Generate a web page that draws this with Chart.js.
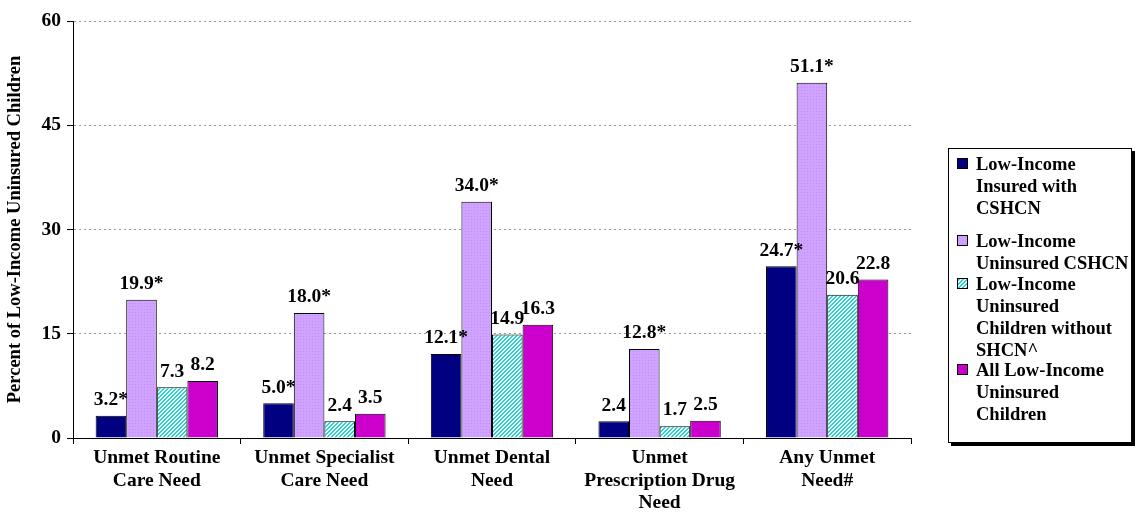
<!DOCTYPE html>
<html>
<head>
<meta charset="utf-8">
<script src="https://cdn.jsdelivr.net/npm/chart.js@4.4.1/dist/chart.umd.min.js"></script>
<style>
  body { margin: 0; background: #fff; }
  #wrap { position: relative; width: 1139px; height: 516px; }
  #legend {
    position: absolute; left: 948px; top: 148px; width: 182px; height: 293px;
    border: 1px solid #000; box-shadow: 3px 3px 0 #000; background: #fff;
    font: bold 18.5px "Liberation Serif", "Times New Roman", serif; color: #000;
  }
  .item { position: absolute; left: 8px; line-height: 22px; }
  .sw { position: absolute; left: 0; top: 5px; width: 11px; height: 11px; border: 1px solid #000; box-sizing: border-box; }
  .txt { margin-left: 19px; white-space: nowrap; }
</style>
</head>
<body>
<div id="wrap">
  <canvas id="chart-area" width="1139" height="516"></canvas>
  <div id="legend"></div>
</div>
<script>
const categories = [
  ['Unmet Routine', 'Care Need'],
  ['Unmet Specialist', 'Care Need'],
  ['Unmet Dental', 'Need'],
  ['Unmet', 'Prescription Drug', 'Need'],
  ['Any Unmet', 'Need#']
];
const seriesNames = [
  ['Low-Income', 'Insured with', 'CSHCN'],
  ['Low-Income', 'Uninsured CSHCN'],
  ['Low-Income', 'Uninsured', 'Children without', 'SHCN^'],
  ['All Low-Income', 'Uninsured', 'Children']
];
const insuredCshcn = [3.2, 5.0, 12.1, 2.4, 24.7];
const uninsuredCshcn = [19.9, 18.0, 34.0, 12.8, 51.1];
const uninsuredNoShcn = [7.3, 2.4, 14.9, 1.7, 20.6];
const allUninsured = [8.2, 3.5, 16.3, 2.5, 22.8];
// significance markers shown after the value
const insuredStars = ['*', '*', '*', '', '*'];
const uninsuredStars = ['*', '*', '*', '*', '*'];
const noStars = ['', '', '', '', ''];
const yTicks = [0, 15, 30, 45, 60];

function dotPattern() {
  const c = document.createElement('canvas');
  c.width = 3; c.height = 3;
  const g = c.getContext('2d');
  g.fillStyle = '#CFA3FF'; g.fillRect(0, 0, 3, 3);
  g.fillStyle = '#BC90F4'; g.fillRect(0, 0, 1, 1);
  return g.createPattern(c, 'repeat');
}
function hatchPattern() {
  const c = document.createElement('canvas');
  c.width = 4; c.height = 4;
  const g = c.getContext('2d');
  g.fillStyle = '#E6FFFF'; g.fillRect(0, 0, 4, 4);
  g.fillStyle = '#38CFCC';
  for (let i = 0; i < 4; i++) { g.fillRect(3 - i, i, 1, 1); g.fillRect((4 - i) % 4, i, 1, 1); }
  return g.createPattern(c, 'repeat');
}

const colors = ['#000080', dotPattern(), hatchPattern(), '#CC00CC'];
const cssSwatch = [
  'background:#000080',
  'background:#CFA3FF radial-gradient(#BC90F4 30%, transparent 31%) 0 0/3px 3px',
  'background:repeating-linear-gradient(135deg,#38CFCC 0 1.5px,#E6FFFF 1.5px 3px)',
  'background:#CC00CC'
];

const valueLabels = {
  id: 'valueLabels',
  afterDatasetsDraw(chart) {
    const ctx = chart.ctx;
    ctx.save();
    ctx.font = 'bold 19.5px "Liberation Serif", serif';
    ctx.fillStyle = '#000';
    ctx.textAlign = 'center';
    ctx.textBaseline = 'bottom';
    chart.data.datasets.forEach((ds, i) => {
      chart.getDatasetMeta(i).data.forEach((bar, j) => {
        ctx.fillText(ds.data[j].toFixed(1) + ds.stars[j], bar.x, bar.y - 6);
      });
    });
    ctx.restore();
  }
};

window.onload = function() {
  let ctx = document.getElementById('chart-area').getContext('2d');
  let barChart = new Chart(ctx, {
    type: 'bar',
    data: {
      labels: categories,
      datasets: [
        { label: seriesNames[0].join(' '), data: insuredCshcn, stars: insuredStars, backgroundColor: colors[0] },
        { label: seriesNames[1].join(' '), data: uninsuredCshcn, stars: uninsuredStars, backgroundColor: colors[1] },
        { label: seriesNames[2].join(' '), data: uninsuredNoShcn, stars: noStars, backgroundColor: colors[2] },
        { label: seriesNames[3].join(' '), data: allUninsured, stars: noStars, backgroundColor: colors[3] }
      ].map(d => Object.assign(d, { borderColor: '#000', borderWidth: 1, categoryPercentage: 0.73, barPercentage: 1 }))
    },
    options: {
      responsive: false,
      animation: false,
      layout: { padding: { left: 0, right: 228, top: 21, bottom: 0 } },
      plugins: { legend: { display: false }, tooltip: { enabled: false } },
      scales: {
        x: {
          afterFit: s => { s.height = 78; },
          grid: { offset: true, drawOnChartArea: false, color: '#000', tickLength: 6 },
          border: { color: '#000', width: 1 },
          ticks: { color: '#000', padding: 3, font: { family: 'Liberation Serif', size: 19.5, weight: 'bold', lineHeight: 1.15 } }
        },
        y: {
          min: 0, max: 60,
          afterFit: s => { s.width = 73; },
          afterBuildTicks: s => { s.ticks = yTicks.map(v => ({ value: v })); },
          grid: { color: '#999', tickColor: '#000', tickLength: 6, tickBorderDash: [1, 0] },
          border: { color: '#000', width: 1, dash: [2, 3] },
          ticks: { color: '#000', padding: 6, font: { family: 'Liberation Serif', size: 19.5, weight: 'bold' } },
          title: { display: true, text: 'Percent of Low-Income Uninsured Children', color: '#000', padding: { top: 4, bottom: 0 },
                   font: { family: 'Liberation Serif', size: 18.5, weight: 'bold' } }
        }
      }
    },
    plugins: [valueLabels]
  });

  const tops = [4, 81, 124, 210];
  const legend = document.getElementById('legend');
  seriesNames.forEach((lines, i) => {
    const it = document.createElement('div');
    it.className = 'item';
    it.style.top = tops[i] + 'px';
    it.innerHTML = '<div class="sw" style="' + cssSwatch[i] + '"></div><div class="txt">' + lines.join('<br>') + '</div>';
    legend.appendChild(it);
  });
};
</script>
</body>
</html>
